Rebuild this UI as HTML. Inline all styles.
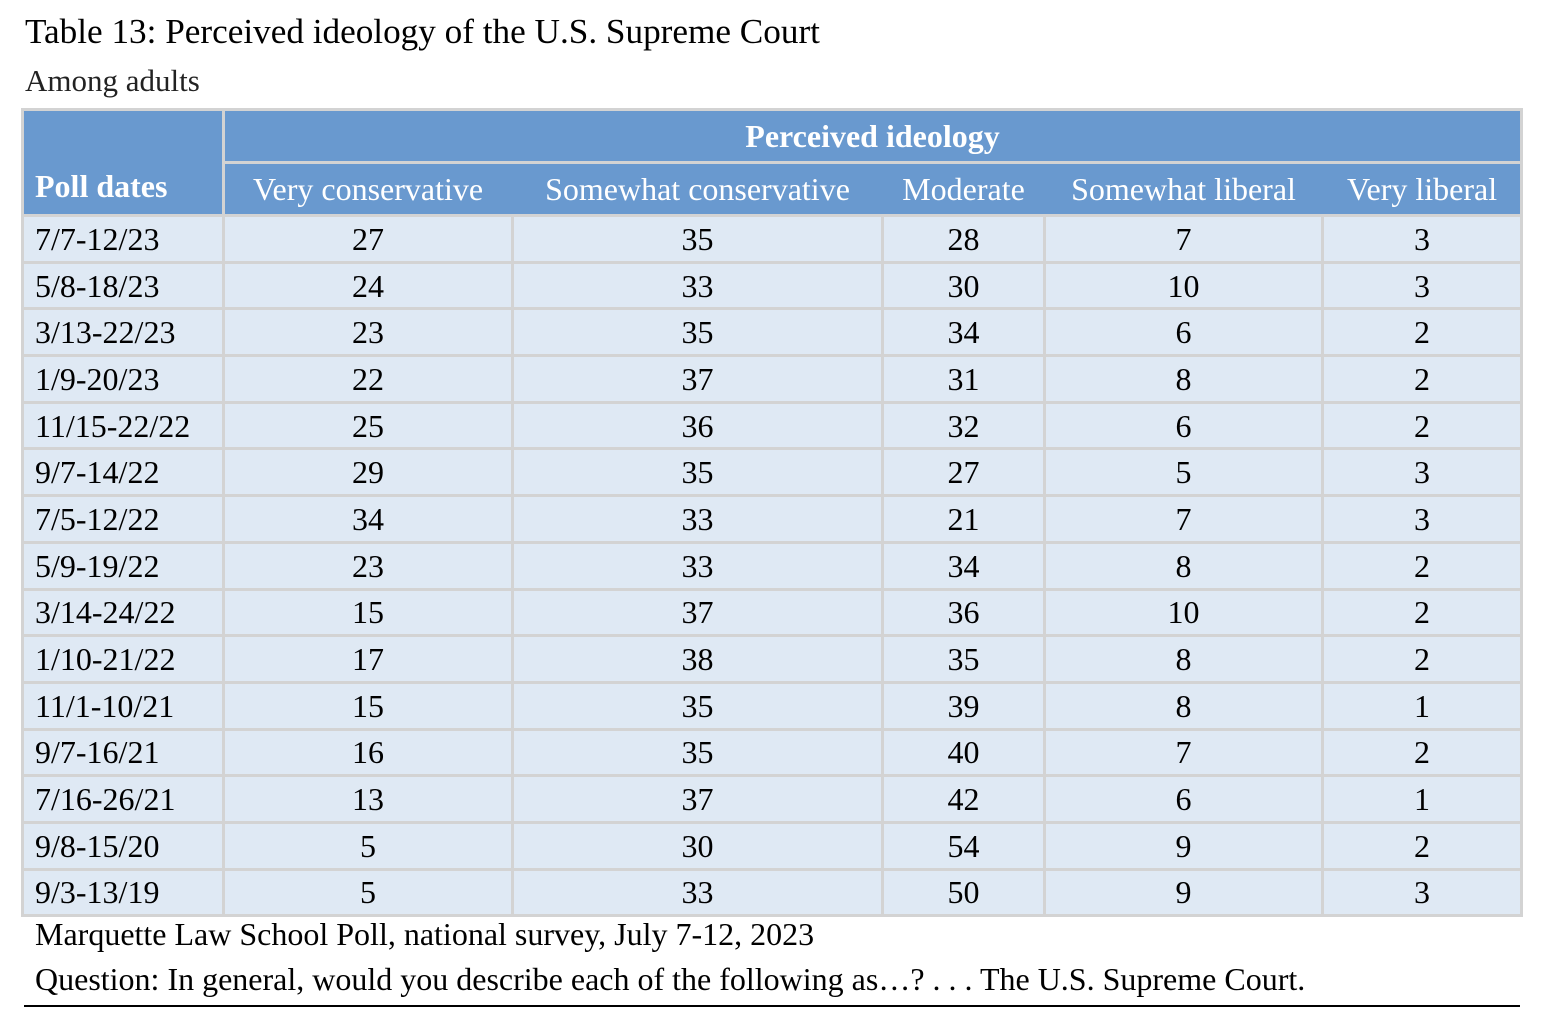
<!DOCTYPE html>
<html><head><style>
body{margin:0;background:#fff;width:1542px;height:1036px;position:relative;font-family:"Liberation Serif",serif;color:#000;overflow:hidden}
.t{position:absolute;left:25px;top:12px;font-size:35.2px}
.s{position:absolute;left:25px;top:63px;font-size:31px;color:#222}
table{position:absolute;left:21px;top:108px;width:1499px;border-collapse:collapse;table-layout:fixed;font-size:32px;line-height:1}
td{border:3px solid #d3d3d3;padding:0;text-align:center;background:#dfe9f4;height:43.7px;white-space:nowrap}
td.l{text-align:left;padding-left:11px}
.h td{background:#6999cf;color:#fff}
.h1 td{height:50px;font-weight:bold}
.h2 td{height:50px}
.h2 td{border-left-color:#6999cf;border-right-color:#6999cf}
.h2 td:first-child{border-left-color:#d3d3d3}
.h2 td:last-child{border-right-color:#d3d3d3}
.pd{font-weight:bold;vertical-align:bottom;padding-bottom:12px}
.f{position:absolute;left:35px;font-size:32px}
.line{position:absolute;left:24px;top:1005px;width:1496px;height:2px;background:#000}
</style></head><body>
<div class="t">Table 13: Perceived ideology of the U.S. Supreme Court</div>
<div class="s">Among adults</div>
<table>
<colgroup><col style="width:201px"><col style="width:289px"><col style="width:370px"><col style="width:162px"><col style="width:278px"><col style="width:199px"></colgroup>
<tr class="h h1"><td rowspan="2" class="pd l">Poll dates</td><td colspan="5">Perceived ideology</td></tr>
<tr class="h h2"><td>Very conservative</td><td>Somewhat conservative</td><td>Moderate</td><td>Somewhat liberal</td><td>Very liberal</td></tr>
<tr><td class="l">7/7-12/23</td><td>27</td><td>35</td><td>28</td><td>7</td><td>3</td></tr>
<tr><td class="l">5/8-18/23</td><td>24</td><td>33</td><td>30</td><td>10</td><td>3</td></tr>
<tr><td class="l">3/13-22/23</td><td>23</td><td>35</td><td>34</td><td>6</td><td>2</td></tr>
<tr><td class="l">1/9-20/23</td><td>22</td><td>37</td><td>31</td><td>8</td><td>2</td></tr>
<tr><td class="l">11/15-22/22</td><td>25</td><td>36</td><td>32</td><td>6</td><td>2</td></tr>
<tr><td class="l">9/7-14/22</td><td>29</td><td>35</td><td>27</td><td>5</td><td>3</td></tr>
<tr><td class="l">7/5-12/22</td><td>34</td><td>33</td><td>21</td><td>7</td><td>3</td></tr>
<tr><td class="l">5/9-19/22</td><td>23</td><td>33</td><td>34</td><td>8</td><td>2</td></tr>
<tr><td class="l">3/14-24/22</td><td>15</td><td>37</td><td>36</td><td>10</td><td>2</td></tr>
<tr><td class="l">1/10-21/22</td><td>17</td><td>38</td><td>35</td><td>8</td><td>2</td></tr>
<tr><td class="l">11/1-10/21</td><td>15</td><td>35</td><td>39</td><td>8</td><td>1</td></tr>
<tr><td class="l">9/7-16/21</td><td>16</td><td>35</td><td>40</td><td>7</td><td>2</td></tr>
<tr><td class="l">7/16-26/21</td><td>13</td><td>37</td><td>42</td><td>6</td><td>1</td></tr>
<tr><td class="l">9/8-15/20</td><td>5</td><td>30</td><td>54</td><td>9</td><td>2</td></tr>
<tr><td class="l">9/3-13/19</td><td>5</td><td>33</td><td>50</td><td>9</td><td>3</td></tr>
</table>
<div class="f" style="top:916px">Marquette Law School Poll, national survey, July 7-12, 2023</div>
<div class="f" style="top:961px">Question: In general, would you describe each of the following as…? . . . The U.S. Supreme Court.</div>
<div class="line"></div>
</body></html>
